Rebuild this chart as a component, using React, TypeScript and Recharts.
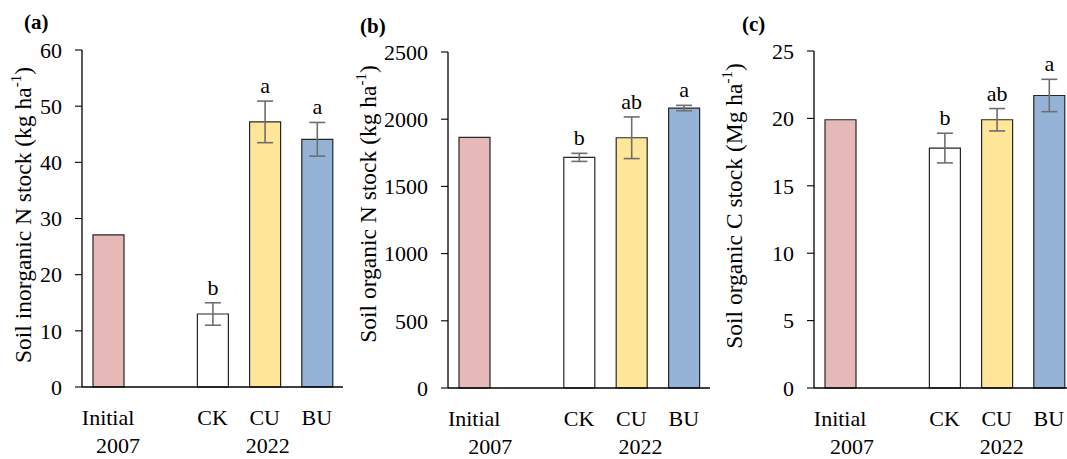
import React from 'react';
import {
  BarChart,
  Bar,
  XAxis,
  YAxis,
  Cell,
  ErrorBar,
  LabelList,
} from 'recharts';

const categories = ['Initial', '', 'CK', 'CU', 'BU'];
const years = ['2007', '', '', '2022', ''];
const barColors = ['#E6B8B7', '#FFFFFF', '#FFFFFF', '#FFE699', '#95B3D7'];

const inorganicN = [27.1, null, 13.0, 47.2, 44.1];
const inorganicNErr = [null, null, 2.0, 3.7, 3.0];
const inorganicNLetters = ['', '', 'b', 'a', 'a'];
const inorganicNTicks = [0, 10, 20, 30, 40, 50, 60];

const organicN = [1865, null, 1716, 1862, 2083];
const organicNErr = [null, null, 30, 155, 20];
const organicNLetters = ['', '', 'b', 'ab', 'a'];
const organicNTicks = [0, 500, 1000, 1500, 2000, 2500];

const organicC = [19.9, null, 17.8, 19.9, 21.7];
const organicCErr = [null, null, 1.1, 0.83, 1.2];
const organicCLetters = ['', '', 'b', 'ab', 'a'];
const organicCTicks = [0, 5, 10, 15, 20, 25];

const FONT = 'Liberation Serif, serif';
const ERR_COLOR = '#6e6e6e';

interface PanelProps {
  values: (number | null)[];
  errors: (number | null)[];
  letters: string[];
  ticks: number[];
  tag: string;
  labelMain: string;
  left: number;
  width: number;
  axisWidth: number;
  top: number;
  bottom: number;
  right: number;
  labelX: number;
  labelY: number;
  tagX: number;
  tagY: number;
  yearShift: number[];
}

const Panel: React.FC<PanelProps> = (p) => {
  const data = categories.map((name, i) => ({
    name,
    value: p.values[i],
    err: p.errors[i],
    letter: p.letters[i],
    year: years[i],
  }));
  const max = p.ticks[p.ticks.length - 1];

  const CategoryTick = (props: any) => {
    const { x, y, payload } = props;
    const idx = payload.index ?? props.index;
    const year = years[idx];
    const shift = idx === 0 ? p.yearShift[0] : p.yearShift[1];
    return (
      <g>
        <text x={x} y={y + 38} textAnchor="middle" fontFamily={FONT} fontSize={22} fill="#000">
          {payload.value}
        </text>
        {year && (
          <text x={x + shift} y={y + 66} textAnchor="middle" fontFamily={FONT} fontSize={22} fill="#000">
            {year}
          </text>
        )}
      </g>
    );
  };

  // label value is "letter|err" so the letter can sit above the error bar
  const renderLetter = (props: any) => {
    const vb = props.viewBox ?? props;
    const { x, y, width, height } = vb;
    const [letter, errStr] = String(props.value ?? '').split('|');
    if (!letter) return null;
    const err = Number(errStr) || 0;
    const entry = data.find((d) => d.letter === letter && d.err === (err || null));
    const val = entry?.value ?? 0;
    const pxPerUnit = val ? Math.abs(height) / val : 0;
    const top = Math.min(y, y + height) - err * pxPerUnit;
    return (
      <text x={x + width / 2} y={top - 8} textAnchor="middle" fontFamily={FONT} fontSize={22} fill="#000">
        {letter}
      </text>
    );
  };

  const renderAxisLabel = () => (
    <g>
      <text
        x={p.labelX}
        y={p.labelY}
        transform={`rotate(-90 ${p.labelX} ${p.labelY})`}
        textAnchor="middle"
        fontFamily={FONT}
        fontSize={23.5}
        fill="#000"
      >
        {p.labelMain}
        <tspan fontSize={15} dy={-10}>-1</tspan>
        <tspan dy={10}>)</tspan>
      </text>
      <text x={p.tagX} y={p.tagY} fontFamily={FONT} fontSize={21} fontWeight="bold" fill="#000">
        {p.tag}
      </text>
    </g>
  );

  return (
    <div style={{ position: 'absolute', left: p.left, top: 0 }}>
      <BarChart
        width={p.width}
        height={459}
        data={data}
        margin={{ top: p.top, right: p.right, bottom: p.bottom, left: 0 }}
      >
        <XAxis
          dataKey="name"
          height={60}
          tickLine={false}
          tickSize={0}
          tickMargin={0}
          interval={0}
          axisLine={{ stroke: '#000', strokeWidth: 1.3 }}
          tick={<CategoryTick />}
        />
        <XAxis
          xAxisId="top"
          orientation="top"
          dataKey="name"
          height={0}
          tick={false}
          tickLine={false}
          axisLine={{ stroke: '#000', strokeWidth: 1.1 }}
        />
        <YAxis
          yAxisId="left"
          width={p.axisWidth}
          domain={[0, max]}
          ticks={p.ticks}
          interval={0}
          tickSize={7}
          tickMargin={13}
          axisLine={{ stroke: '#000', strokeWidth: 1.3 }}
          tickLine={{ stroke: '#000', strokeWidth: 1.1 }}
          tick={{ fill: '#000', fontFamily: FONT, fontSize: 22 }}
          label={renderAxisLabel}
        />
        <YAxis
          yAxisId="right"
          orientation="right"
          width={0}
          domain={[0, max]}
          tick={false}
          tickLine={false}
          axisLine={{ stroke: '#000', strokeWidth: 1.1 }}
        />
        <Bar
          dataKey="value"
          yAxisId="left"
          barSize={31}
          stroke="#262626"
          strokeWidth={1.2}
          isAnimationActive={false}
        >
          {data.map((entry, index) => (
            <Cell key={`cell-${index}`} fill={barColors[index]} />
          ))}
          <ErrorBar dataKey="err" width={8} stroke={ERR_COLOR} strokeWidth={1.6} direction="y" />
          <LabelList
            dataKey={(d: any) => (d.letter ? `${d.letter}|${d.err ?? 0}` : '')}
            content={renderLetter}
          />
        </Bar>
      </BarChart>
    </div>
  );
};

export default function App() {
  return (
    <div
      style={{
        position: 'absolute',
        left: 0,
        top: 0,
        width: 1067,
        height: 459,
        overflow: 'hidden',
        background: '#fff',
      }}
    >
      <Panel
        values={inorganicN}
        errors={inorganicNErr}
        letters={inorganicNLetters}
        ticks={inorganicNTicks}
        tag="(a)"
        labelMain="Soil inorganic N stock (kg ha"
        left={0}
        width={355}
        axisWidth={82}
        top={50}
        bottom={12}
        right={12}
        labelX={31}
        labelY={215}
        tagX={24}
        tagY={29}
        yearShift={[10, 3]}
      />
      <Panel
        values={organicN}
        errors={organicNErr}
        letters={organicNLetters}
        ticks={organicNTicks}
        tag="(b)"
        labelMain="Soil organic N stock (kg ha"
        left={345}
        width={370}
        axisWidth={103}
        top={52}
        bottom={11}
        right={5}
        labelX={31}
        labelY={204}
        tagX={15}
        tagY={33}
        yearShift={[16, 9]}
      />
      <Panel
        values={organicC}
        errors={organicCErr}
        letters={organicCLetters}
        ticks={organicCTicks}
        tag="(c)"
        labelMain="Soil organic C stock (Mg ha"
        left={710}
        width={370}
        axisWidth={104}
        top={51}
        bottom={11}
        right={5}
        labelX={32}
        labelY={206}
        tagX={32}
        tagY={31}
        yearShift={[12, 5]}
      />
    </div>
  );
}
